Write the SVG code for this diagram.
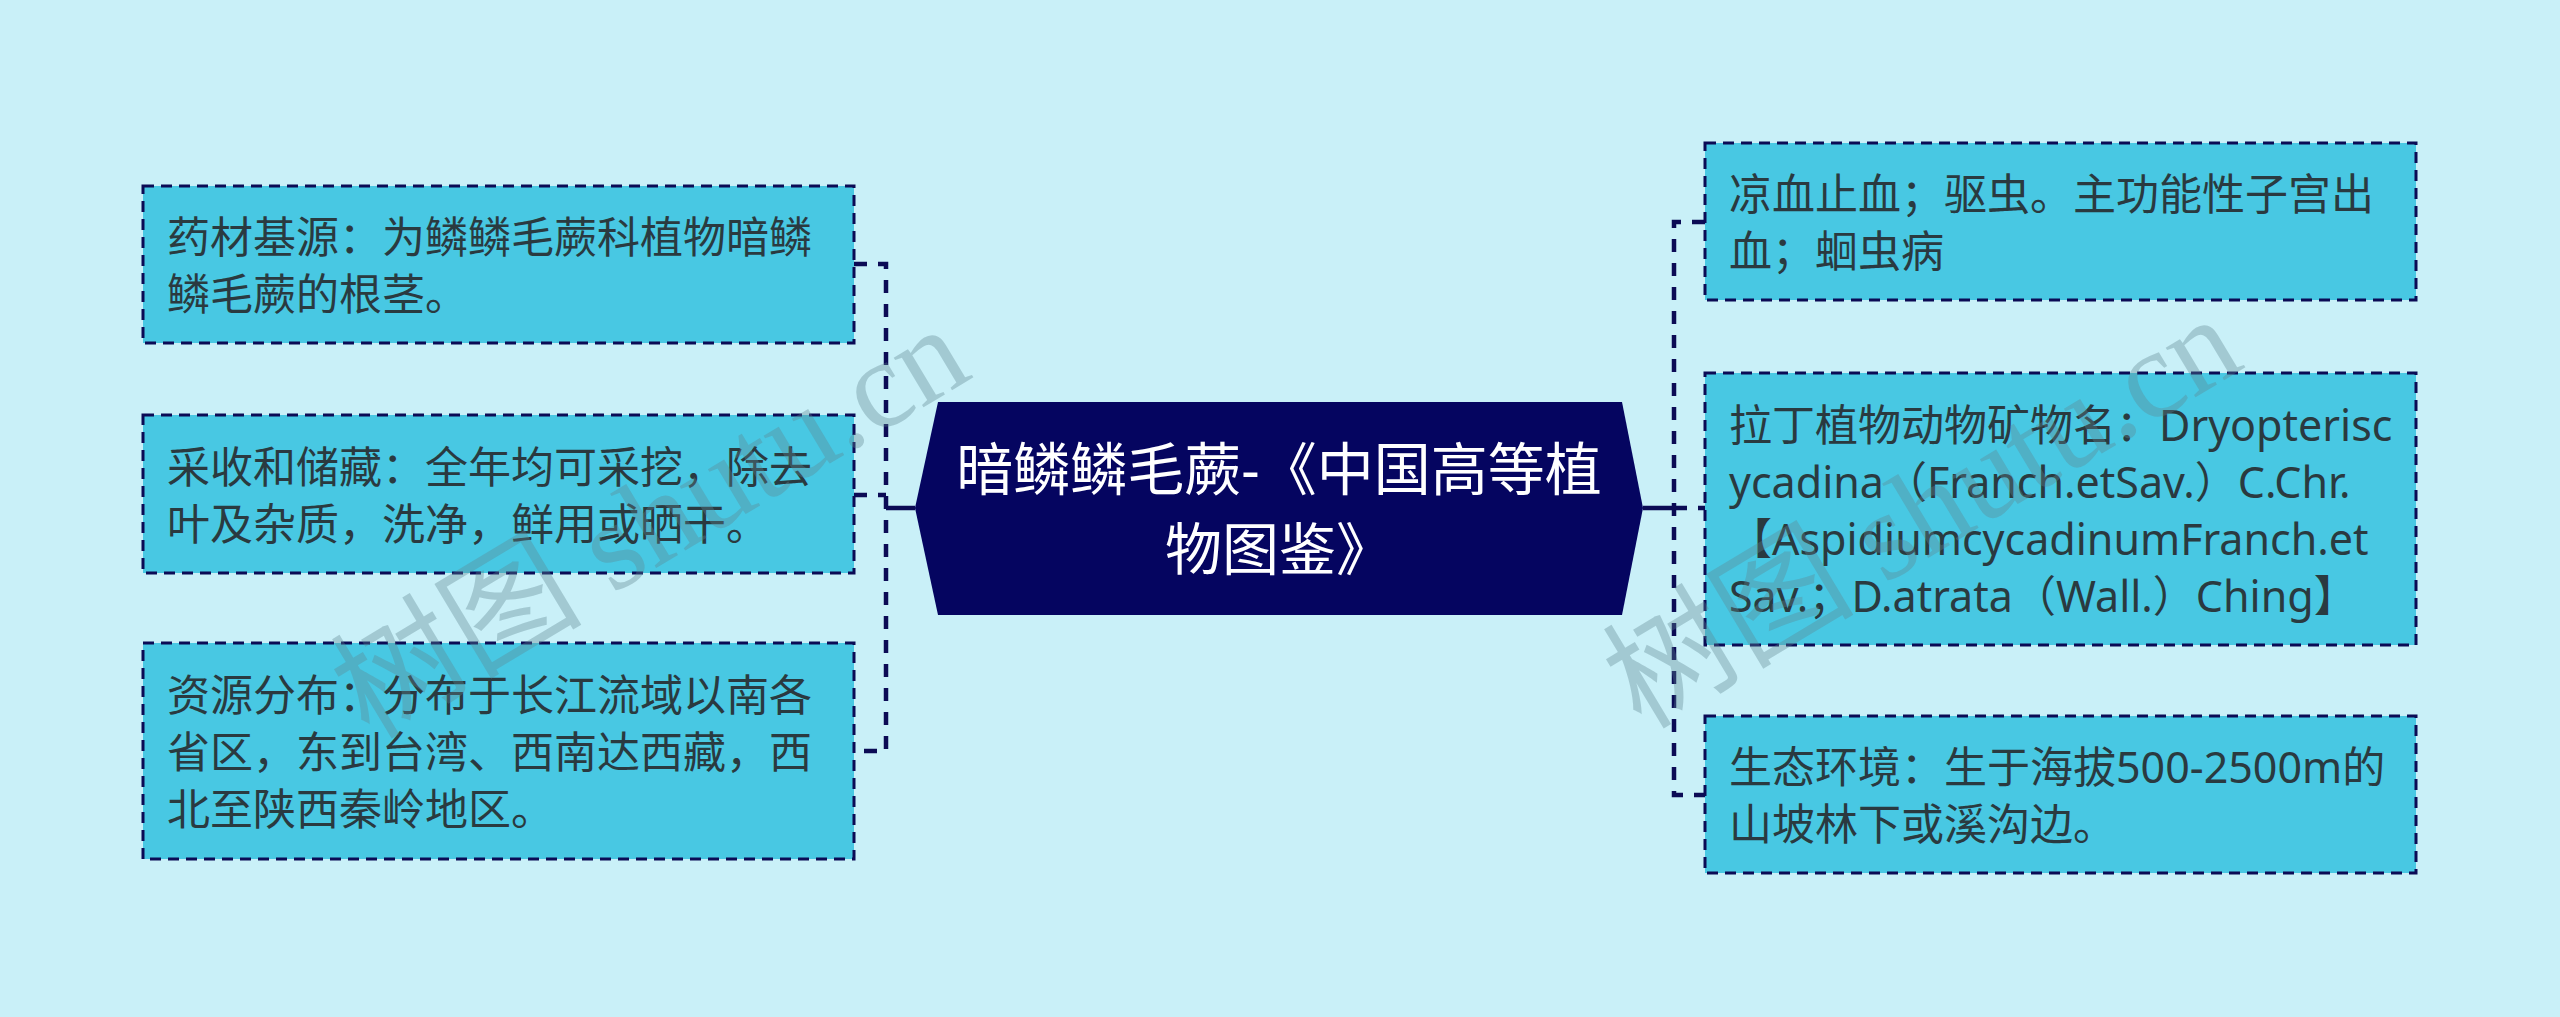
<svg xmlns="http://www.w3.org/2000/svg" width="2560" height="1017" viewBox="0 0 2560 1017">
<style>
.box{fill:#48C8E3;stroke:#0B0B55;stroke-width:3;stroke-dasharray:11 7}
.t{font-family:"Noto Sans","Noto Sans CJK SC",sans-serif;font-size:43px;fill:#2A3A40;dominant-baseline:central}
.ct{font-family:"Noto Sans","Noto Sans CJK SC",sans-serif;font-size:57px;fill:#FFFFFF;dominant-baseline:central;text-anchor:middle}
.dl{fill:none;stroke:#0B0B55;stroke-width:4.5;stroke-dasharray:13 11}
.sl{fill:none;stroke:#0B0B55;stroke-width:4.5}
.wm{font-family:"Liberation Serif","Noto Sans CJK SC",serif;font-size:126px;fill:#5F858F;fill-opacity:0.36;text-anchor:middle;dominant-baseline:central}
</style>
<rect width="2560" height="1017" fill="#C9F0F8"/>
<g id="connectors">
<path class="dl" d="M854,264 H886 V751 H854"/>
<path class="dl" d="M854,495 H886"/>
<path class="sl" d="M886,508 H915"/>
<path class="dl" d="M1705,222 H1674 V795 H1705"/>
<path class="dl" d="M1674,508 H1705"/>
<path class="sl" d="M1643,508 H1674"/>
</g>
<g id="center">
<polygon points="938,402 1622,402 1643,508 1622,615 938,615 915,508" fill="#050560"/>
<text class="ct" x="1279" y="468">暗鳞鳞毛蕨-《中国高等植</text>
<text class="ct" x="1279" y="548">物图鉴》</text>
</g>
<g id="left1">
<rect class="box" x="143" y="186" width="711" height="157"/>
<text class="t" x="167" y="236">药材基源：为鳞鳞毛蕨科植物暗鳞</text>
<text class="t" x="167" y="293">鳞毛蕨的根茎。</text>
</g>
<g id="left2">
<rect class="box" x="143" y="415" width="711" height="158"/>
<text class="t" x="167" y="466">采收和储藏：全年均可采挖，除去</text>
<text class="t" x="167" y="523">叶及杂质，洗净，鲜用或晒干。</text>
</g>
<g id="left3">
<rect class="box" x="143" y="643" width="711" height="216"/>
<text class="t" x="167" y="694">资源分布：分布于长江流域以南各</text>
<text class="t" x="167" y="751">省区，东到台湾、西南达西藏，西</text>
<text class="t" x="167" y="808">北至陕西秦岭地区。</text>
</g>
<g id="right1">
<rect class="box" x="1705" y="143" width="711" height="157"/>
<text class="t" x="1729" y="193">凉血止血；驱虫。主功能性子宫出</text>
<text class="t" x="1729" y="250">血；蛔虫病</text>
</g>
<g id="right2">
<rect class="box" x="1705" y="373" width="711" height="272"/>
<text class="t" x="1729" y="424">拉丁植物动物矿物名：Dryopterisc</text>
<text class="t" x="1729" y="481">ycadina（Franch.etSav.）C.Chr.</text>
<text class="t" x="1729" y="538">【AspidiumcycadinumFranch.et</text>
<text class="t" x="1729" y="595">Sav.；D.atrata（Wall.）Ching】</text>
</g>
<g id="right3">
<rect class="box" x="1705" y="716" width="711" height="157"/>
<text class="t" x="1729" y="766">生态环境：生于海拔500-2500m的</text>
<text class="t" x="1729" y="823">山坡林下或溪沟边。</text>
</g>
<g id="watermarks">
<text class="wm" transform="translate(650,522) rotate(-31)">树图 shutu.cn</text>
<text class="wm" transform="translate(1922,512) rotate(-31)">树图 shutu.cn</text>
</g>
</svg>
